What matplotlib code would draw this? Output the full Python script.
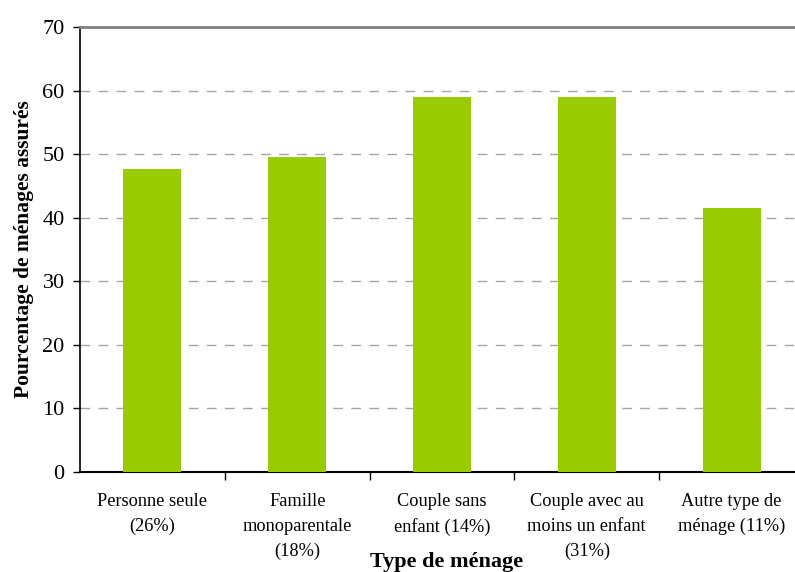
import matplotlib

matplotlib.use("Agg")
import matplotlib.pyplot as plt
import numpy as np

categories = [
    "Personne seule\n(26%)",
    "Famille\nmonoparentale\n(18%)",
    "Couple sans\nenfant (14%)",
    "Couple avec au\nmoins un enfant\n(31%)",
    "Autre type de\nménage (11%)",
]
pct_assured = [47.7, 49.6, 59.0, 59.0, 41.5]
y_ticks = [0, 10, 20, 30, 40, 50, 60, 70]

plt.rcParams["font.family"] = ["Liberation Serif", "DejaVu Serif"]

fig = plt.figure(figsize=(7.95, 5.72), dpi=100)
ax = fig.add_axes([80 / 795, 100 / 572, 724 / 795, 445 / 572])

x = np.arange(len(categories))
ax.bar(x, pct_assured, width=0.40, color="#99CC00", zorder=3)

ax.set_xlim(-0.5, len(categories) - 0.5)
ax.set_ylim(0, 70)
ax.set_yticks(y_ticks)
ax.tick_params(axis="y", labelsize=16, length=5, width=1, pad=6, direction="out")

# labels sit under the bars, tick marks on the category boundaries
ax.set_xticks(x)
ax.set_xticklabels(categories, fontsize=13.2, linespacing=1.62, va="top")
ax.tick_params(axis="x", which="major", length=0, pad=15)
ax.set_xticks(np.arange(0.5, len(categories) - 0.5), minor=True)
ax.tick_params(axis="x", which="minor", length=6, width=1, direction="out")

for y in y_ticks[1:-1]:
    ax.axhline(y, color="#a6a6a6", lw=1, ls=(0, (7, 6)), zorder=1)

ax.spines["top"].set_color("#808080")
ax.spines["top"].set_linewidth(2)
ax.spines["right"].set_visible(False)
ax.spines["left"].set_linewidth(1.2)
ax.spines["bottom"].set_linewidth(1.5)

ax.set_ylabel("Pourcentage de ménages assurés", fontsize=15.5, fontweight="bold")
ax.yaxis.set_label_coords(-46 / 724, 0.5)
fig.text(447 / 795, 1 - 562 / 572, "Type de ménage", fontsize=16, fontweight="bold",
         ha="center", va="center")

fig.savefig("out.png", dpi=100)
